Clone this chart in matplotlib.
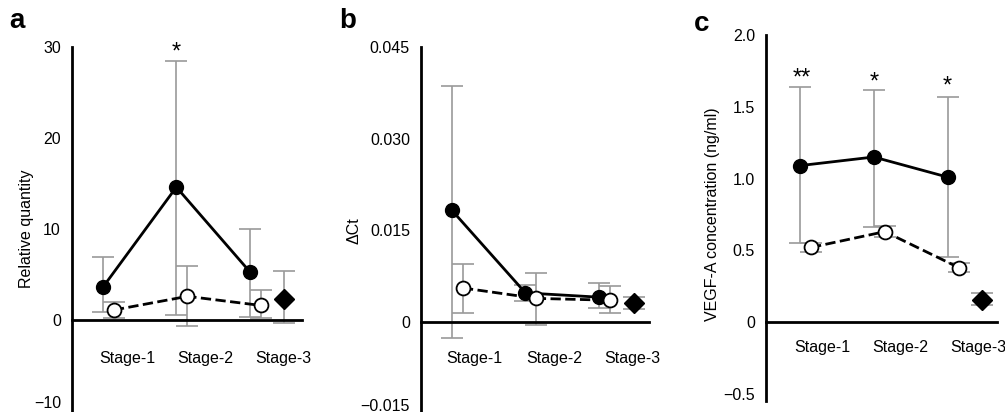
import matplotlib
matplotlib.use("Agg")
import matplotlib.pyplot as plt

plt.rcParams["font.family"] = ["Liberation Sans", "DejaVu Sans"]

stages = ["Stage-1", "Stage-2", "Stage-3"]

# a: relative quantity (mean, upper and lower bar ends)
a_filled = [3.6, 14.6, 5.3]
a_filled_hi = [6.9, 28.5, 10.0]
a_filled_lo = [0.9, 0.5, 0.3]
a_open = [1.1, 2.6, 1.6]
a_open_hi = [2.0, 5.9, 3.3]
a_open_lo = [0.2, -0.7, 0.2]
a_diamond = [2.3]
a_diamond_hi = [5.4]
a_diamond_lo = [-0.3]

# b: delta Ct
b_filled = [0.0183, 0.0048, 0.0041]
b_filled_hi = [0.0386, 0.0061, 0.0064]
b_filled_lo = [-0.0025, 0.0034, 0.0023]
b_open = [0.0056, 0.0039, 0.0036]
b_open_hi = [0.0096, 0.0080, 0.0060]
b_open_lo = [0.0015, -0.0005, 0.0015]
b_diamond = [0.0031]
b_diamond_hi = [0.0041]
b_diamond_lo = [0.0021]

# c: VEGF-A concentration (ng/ml)
c_filled = [1.09, 1.15, 1.01]
c_filled_hi = [1.64, 1.62, 1.57]
c_filled_lo = [0.55, 0.66, 0.45]
c_open = [0.52, 0.63, 0.38]
c_open_hi = [0.55, 0.67, 0.41]
c_open_lo = [0.49, 0.59, 0.35]
c_diamond = [0.155]
c_diamond_hi = [0.20]
c_diamond_lo = [0.12]

GREY = "#9a9a9a"
FS = 11.5


def yerr(mean, hi, lo):
    return [[m - l for m, l in zip(mean, lo)], [h - m for m, h in zip(mean, hi)]]


def panel(ax, filled, fhi, flo, opn, ohi, olo, dia, dhi, dlo):
    xf = [0, 1, 2]
    xo = [x + 0.15 for x in xf]
    xd = [2.47]
    ekw = dict(fmt="none", ecolor=GREY, elinewidth=1.2, capsize=8, capthick=1.2,
               zorder=1, clip_on=False)
    ax.errorbar(xf, filled, yerr=yerr(filled, fhi, flo), **ekw)
    ax.errorbar(xo, opn, yerr=yerr(opn, ohi, olo), **ekw)
    ax.errorbar(xd, dia, yerr=yerr(dia, dhi, dlo), **ekw)
    ax.plot(xf, filled, "-", color="black", lw=2, zorder=2)
    ax.plot(xo, opn, "--", color="black", lw=2, zorder=2)
    ax.plot(xf, filled, "o", color="black", ms=10, zorder=3, clip_on=False)
    ax.plot(xo, opn, "o", mfc="white", mec="black", mew=1.3, ms=10, zorder=3, clip_on=False)
    ax.plot(xd, dia, "D", color="black", ms=10, zorder=3, clip_on=False)

    for s in ("top", "right"):
        ax.spines[s].set_visible(False)
    ax.spines["bottom"].set_position(("data", 0))
    ax.spines["left"].set_linewidth(2)
    ax.spines["bottom"].set_linewidth(2)
    ax.set_xticks([])
    ax.tick_params(axis="y", length=0, pad=8, labelsize=FS)
    ax.patch.set_visible(False)


fig = plt.figure(figsize=(10.05, 4.12), dpi=100)
W, H = 1005, 412


def add_axes(left, right, top, bottom):
    return fig.add_axes([left / W, 1 - bottom / H, (right - left) / W, (bottom - top) / H])


# a
ax = add_axes(72, 302, 47, 411)
panel(ax, a_filled, a_filled_hi, a_filled_lo, a_open, a_open_hi, a_open_lo,
      a_diamond, a_diamond_hi, a_diamond_lo)
ax.set_xlim(-0.42, 2.71)
ax.set_ylim(-10, 30)
ax.set_yticks([-10, 0, 10, 20, 30])
ax.set_yticklabels(["\u221210", "0", "10", "20", "30"])
ax.get_yticklabels()[0].set_va("bottom")
ax.set_ylabel("Relative quantity", fontsize=FS)
ax.yaxis.set_label_coords(-0.165, 0.5)
for x, s in zip([0.33, 1.40, 2.45], stages):
    ax.text(x, -4.2, s, ha="center", va="center", fontsize=FS)
ax.text(1, 29.4, "*", ha="center", va="center", fontsize=17)

# b
ax = add_axes(421, 649, 47, 414)
panel(ax, b_filled, b_filled_hi, b_filled_lo, b_open, b_open_hi, b_open_lo,
      b_diamond, b_diamond_hi, b_diamond_lo)
ax.set_xlim(-0.42, 2.68)
ax.set_ylim(-0.015, 0.045)
ax.set_yticks([-0.015, 0, 0.015, 0.030, 0.045])
ax.set_yticklabels(["\u22120.015", "0", "0.015", "0.030", "0.045"])
ax.get_yticklabels()[0].set_va("bottom")
ax.set_ylabel("\u0394Ct", fontsize=FS)
ax.yaxis.set_label_coords(-0.259, 0.5)
for x, s in zip([0.31, 1.39, 2.45], stages):
    ax.text(x, -0.0059, s, ha="center", va="center", fontsize=FS)

# c
ax = add_axes(766, 997, 35, 401)
panel(ax, c_filled, c_filled_hi, c_filled_lo, c_open, c_open_hi, c_open_lo,
      c_diamond, c_diamond_hi, c_diamond_lo)
ax.set_xlim(-0.46, 2.67)
ax.set_ylim(-0.55, 2.0)
ax.set_yticks([-0.5, 0, 0.5, 1.0, 1.5, 2.0])
ax.set_yticklabels(["\u22120.5", "0", "0.5", "1.0", "1.5", "2.0"])
ax.set_ylabel("VEGF-A concentration (ng/ml)", fontsize=FS)
ax.yaxis.set_label_coords(-0.199, 0.51)
for x, s in zip([0.30, 1.36, 2.42], stages):
    ax.text(x, -0.18, s, ha="center", va="center", fontsize=FS)
for x, y, s in zip([0.03, 1, 2], [1.70, 1.67, 1.64], ["**", "*", "*"]):
    ax.text(x, y, s, ha="center", va="center", fontsize=17)

fig.text(17 / W, 1 - 21 / H, "a", ha="center", va="center", fontsize=20, fontweight="bold")
fig.text(348 / W, 1 - 21 / H, "b", ha="center", va="center", fontsize=20, fontweight="bold")
fig.text(702 / W, 1 - 24 / H, "c", ha="center", va="center", fontsize=20, fontweight="bold")

fig.savefig("out.png", dpi=100)
